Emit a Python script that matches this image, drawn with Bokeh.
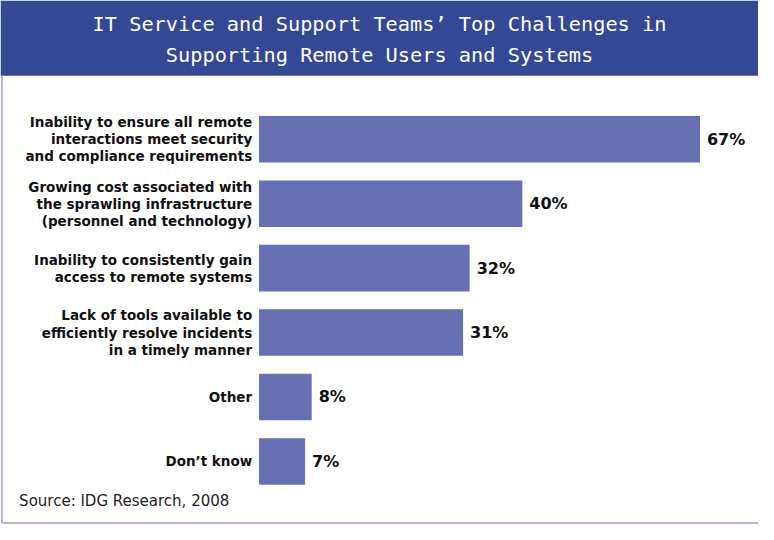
from bokeh.plotting import figure
from bokeh.models import Range1d, ColumnDataSource
from bokeh.core.properties import value
from bokeh.embed import file_html
from bokeh.resources import INLINE

# ---- data ----
categories = [
    "Inability to ensure all remote\ninteractions meet security\nand compliance requirements",
    "Growing cost associated with\nthe sprawling infrastructure\n(personnel and technology)",
    "Inability to consistently gain\naccess to remote systems",
    "Lack of tools available to\nefficiently resolve incidents\nin a timely manner",
    "Other",
    "Don\u2019t know",
]
values = [67, 40, 32, 31, 8, 7]
title_lines = [
    "IT Service and Support Teams\u2019 Top Challenges in",
    "Supporting Remote Users and Systems",
]
source_note = "Source: IDG Research, 2008"

# ---- layout (reference pixel geometry) ----
W, H = 758, 524
REF_W, REF_H = 774, 540
BAR_LEFT_PX = 264.0
PX_PER_PCT = 6.72
ROW0_PX = 143.0
ROW_PX = 66.4

def xd(px):
    return (px - BAR_LEFT_PX) / PX_PER_PCT

def yd(py):
    return (py - ROW0_PX) / ROW_PX

p = figure(width=W, height=H, output_backend="svg", toolbar_location=None,
           x_range=Range1d(xd(0), xd(REF_W)), y_range=Range1d(yd(REF_H), yd(0)),
           min_border=0, min_border_left=0, min_border_right=0,
           min_border_top=0, min_border_bottom=0)
p.axis.visible = False
p.grid.visible = False
p.outline_line_color = None
p.background_fill_color = "white"
p.border_fill_color = "white"

HEADER = "#344895"
BAR = "#6670B3"
FRAME = "#B4B6DA"

# header band
p.quad(left=[xd(0)], right=[xd(REF_W)], top=[yd(0)], bottom=[yd(77.5)],
       fill_color=HEADER, line_color=None)

# frame lines (left and bottom)
p.segment(x0=[xd(1.5), xd(1.5)], y0=[yd(77.5), yd(538.5)],
          x1=[xd(1.5), xd(REF_W)], y1=[yd(538.5), yd(538.5)],
          line_color=FRAME, line_width=2)

# title
p.text(x=[xd(REF_W / 2)] * 2, y=[yd(24.5), yd(56)], text=title_lines,
       text_font=value("DejaVu Sans Mono"), text_font_size="20.3px",
       text_color="white", text_align="center", text_baseline="middle")

# bars
idx = list(range(len(values)))
src = ColumnDataSource(dict(y=idx, v=values, cat=categories,
                            lab=[f"{v}%" for v in values]))
p.hbar(y="y", left=0, right="v", height=48 / ROW_PX, source=src,
       fill_color=BAR, line_color=None)

# category labels
p.text(x=xd(257), y="y", text="cat", source=src,
       text_font=value("DejaVu Sans"), text_font_style="bold",
       text_font_size="13.5px", text_color="#111111",
       text_align="right", text_baseline="middle", text_line_height=1.07)

# value labels
p.text(x="v", y="y", text="lab", source=src, x_offset=7,
       text_font=value("DejaVu Sans"), text_font_style="bold",
       text_font_size="16px", text_color="#111111",
       text_align="left", text_baseline="middle")

# source note
p.text(x=[xd(19)], y=[yd(516)], text=[source_note],
       text_font=value("DejaVu Sans"), text_font_size="15px",
       text_color="#222222", text_align="left", text_baseline="middle")

open("out.html", "w").write(file_html(p, INLINE))
